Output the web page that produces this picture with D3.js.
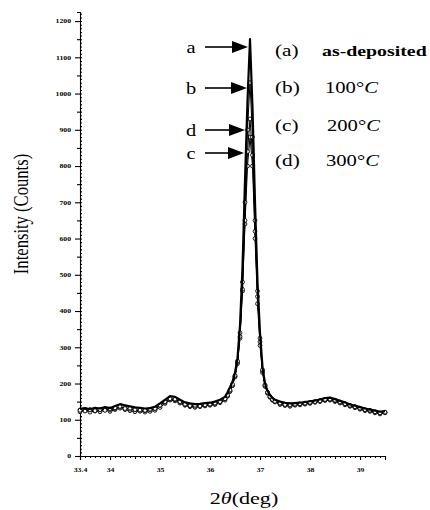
<!DOCTYPE html>
<html>
<head>
<meta charset="utf-8">
<script src="https://cdn.jsdelivr.net/npm/d3@7"></script>
<style>
  html, body { margin: 0; padding: 0; background: #fff; }
  svg { display: block; }
</style>
</head>
<body>
<svg id="chart" width="430" height="510" font-family="'Liberation Serif', 'Times New Roman', serif"></svg>
<script>
// ---------------- data ----------------
const twoTheta = [33.4,33.5,33.6,33.7,33.8,33.9,34.0,34.1,34.2,34.3,34.4,34.5,34.6,34.7,34.8,34.9,35.0,35.1,35.2,35.3,35.4,35.5,35.6,35.7,35.8,35.9,36.0,36.1,36.2,36.3,
  36.35,36.4,36.45,36.5,36.55,36.6,36.65,36.7,36.75,36.8,36.85,36.9,36.95,37.0,37.05,37.1,37.15,37.2,37.25,37.3,
  37.4,37.5,37.6,37.7,37.8,37.9,38.0,38.1,38.2,38.3,38.4,38.5,38.6,38.7,38.8,38.9,39.0,39.1,39.2,39.3,39.4,39.5];

const seriesA = [130,132,129,133,131,135,132,138,143,140,137,134,133,131,132,136,145,155,165,163,155,148,145,143,144,146,147,150,155,163,
  175,190,205,230,270,360,520,760,980,1150,960,700,480,340,245,200,180,168,160,155,
  150,147,145,146,147,149,151,153,156,160,161,157,152,148,142,139,135,131,128,125,122,124];
const seriesB = [126,124,127,125,128,126,130,133,137,131,132,128,127,126,129,131,140,150,158,157,150,143,139,140,138,141,143,146,150,158,
  168,182,198,222,262,340,480,700,900,1030,880,650,455,325,238,196,176,164,156,151,
  146,142,141,143,144,146,148,150,152,156,157,154,149,144,140,136,132,128,126,122,119,121];
const seriesC = [122,126,121,125,122,127,123,128,132,128,125,122,124,121,123,126,134,145,154,152,146,140,136,134,136,138,140,142,147,154,
  165,178,194,218,255,325,455,640,800,880,800,600,420,305,230,192,173,162,154,149,
  142,139,137,140,141,143,145,148,150,153,154,150,146,141,137,133,129,125,123,119,116,119];
const seriesD = [127,125,128,124,127,129,127,131,135,133,129,127,124,125,127,130,139,148,156,155,148,141,138,137,139,140,142,145,149,157,
  166,179,195,220,258,330,460,650,840,930,830,620,440,315,235,195,175,163,155,150,
  145,143,140,142,143,145,147,150,153,155,156,152,148,143,139,135,131,127,125,121,118,120];

const yTickValues = [0,100,200,300,400,500,600,700,800,900,1000,1100,1200];
const xTickValues = [33.4,34,35,36,37,38,39];
const xTickLabels = ["33.4","34","35","36","37","38","39"];

const arrowLetters = ["a","b","d","c"];
const legendKeys = ["(a)","(b)","(c)","(d)"];
const legendLabels = ["as-deposited","100°","200°","300°"];

// ---------------- layout ----------------
const FONT = "'Liberation Serif', 'Times New Roman', serif";
const svg = d3.select("#chart");
const x = d3.scaleLinear().domain([33.4, 39.5]).range([80, 385]);
const y = d3.scaleLinear().domain([0, 1225]).range([456, 12]);

function stext(g, px, py, str, size, opts = {}) {
  return g.append("text")
    .attr("transform", `translate(${px},${py}) scale(${opts.sx || 1.25},1)` + (opts.rot ? ` rotate(${opts.rot})` : ""))
    .attr("font-family", FONT)
    .attr("font-size", size)
    .attr("fill", "#000")
    .attr("text-anchor", opts.anchor || "start")
    .attr("font-weight", opts.weight || "normal")
    .text(str);
}

// ---------------- axes ----------------
const axG = svg.append("g");

axG.append("g").attr("transform", "translate(80,0)")
  .call(d3.axisRight(y).tickValues(d3.range(0, 1221, 10)).tickSize(2).tickFormat("").tickSizeOuter(0))
  .call(g => g.select(".domain").remove());
axG.append("g").attr("transform", "translate(80,0)")
  .call(d3.axisLeft(y).tickValues(d3.range(50, 1200, 100)).tickSize(3).tickFormat("").tickSizeOuter(0))
  .call(g => g.select(".domain").remove());
axG.append("g").attr("transform", "translate(80,0)")
  .call(d3.axisLeft(y).tickValues(yTickValues).tickSize(5).tickPadding(4).tickSizeOuter(3)
    .tickFormat(d => d));

axG.append("g").attr("transform", "translate(0,456)")
  .call(d3.axisBottom(x).tickValues(d3.range(335, 396, 1).map(v => v / 10)).tickSize(2).tickFormat("").tickSizeOuter(0))
  .call(g => g.select(".domain").remove());
axG.append("g").attr("transform", "translate(0,456)")
  .call(d3.axisBottom(x).tickValues([34.5,35.5,36.5,37.5,38.5]).tickSize(3).tickFormat("").tickSizeOuter(0))
  .call(g => g.select(".domain").remove());
axG.append("g").attr("transform", "translate(0,456)")
  .call(d3.axisBottom(x).tickValues(xTickValues).tickSize(4).tickPadding(8).tickSizeOuter(4)
    .tickFormat((d, i) => xTickLabels[i]));

axG.selectAll("line, path").attr("stroke", "#000").attr("stroke-width", 1.1);
axG.selectAll(".tick text").each(function () {
  const t = d3.select(this);
  t.attr("font-size", 5.5).attr("font-weight", "bold").attr("font-family", FONT).attr("fill", "#000");
  const xv = +t.attr("x") || 0;
  t.attr("x", xv / 1.4).attr("transform", "scale(1.4,1)");
});

// ---------------- curves ----------------
const line = d3.line().x((d, i) => x(twoTheta[i])).y(d => y(d));
const plotG = svg.append("g");

[seriesC, seriesD, seriesB].forEach(s => {
  plotG.append("path").datum(s).attr("d", line)
    .attr("fill", "none").attr("stroke", "#000").attr("stroke-width", 1);
  plotG.append("g").selectAll("circle").data(s).join("circle")
    .attr("cx", (d, i) => x(twoTheta[i])).attr("cy", d => y(d)).attr("r", 1.9)
    .attr("fill", "#fff").attr("stroke", "#000").attr("stroke-width", 0.9);
});
plotG.append("path").datum(seriesA).attr("d", line)
  .attr("fill", "none").attr("stroke", "#000").attr("stroke-width", 2.2)
  .attr("stroke-linejoin", "round");

// ---------------- arrows & legend ----------------
const annG = svg.append("g");
const arrowY = [47, 88, 130, 153];
const arrowTip = [248, 247, 245, 244];
arrowLetters.forEach((l, i) => {
  const ay = arrowY[i];
  annG.append("line").attr("x1", 205).attr("x2", arrowTip[i] - 14)
    .attr("y1", ay).attr("y2", ay).attr("stroke", "#000").attr("stroke-width", 1.6);
  annG.append("path")
    .attr("d", `M${arrowTip[i]},${ay} L${arrowTip[i] - 16},${ay - 6} L${arrowTip[i] - 16},${ay + 6} Z`)
    .attr("fill", "#000");
  stext(annG, 191, ay + 6, l, 17, { anchor: "middle", sx: 1.2 });
});

const legY = [56, 93, 131, 166];
const legX2 = [322, 325, 327, 326];
legendKeys.forEach((k, i) => {
  stext(annG, 275, legY[i], k, 17, { sx: 1.25 });
  if (i === 0) {
    stext(annG, legX2[i], legY[i], legendLabels[i], 15.5, { weight: "bold", sx: 1.28 });
  } else {
    const t = stext(annG, legX2[i], legY[i], "", 16.5, { sx: 1.25 });
    t.append("tspan").text(legendLabels[i]);
    t.append("tspan").attr("font-style", "italic").text("C");
  }
});

// ---------------- axis titles ----------------
stext(svg, 28, 214, "Intensity (Counts)", 16.6, { anchor: "middle", sx: 1.3, rot: -90 });
const xt = stext(svg, 244, 504, "", 17, { anchor: "middle", sx: 1.3 });
xt.append("tspan").text("2");
xt.append("tspan").attr("font-style", "italic").text("θ");
xt.append("tspan").text("(deg)");
</script>
</body>
</html>
